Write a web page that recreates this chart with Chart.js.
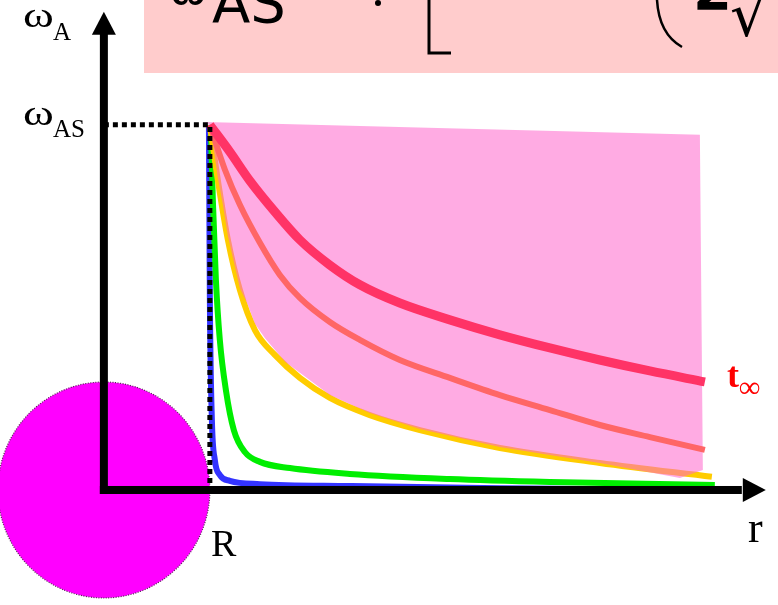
<!DOCTYPE html>
<html lang="en">
<head>
  <meta charset="UTF-8">
  <title>Alfvén frequency profile</title>
  <style>
    body {
        margin: 0;
        padding: 0;
        background: #fff;
    }
    #chart {
        display: block;
    }
  </style>
</head>
<body>
  <canvas id="chart" width="778" height="605"></canvas>

  <script src="https://cdn.jsdelivr.net/npm/chart.js"></script>
  <script>
    // radius in units of R, frequency in units of omega_AS
    const redR    = [1.0, 1.189, 1.377, 1.613, 1.849, 2.132, 2.415, 2.792, 3.264, 3.736, 4.208, 4.679, 5.151, 5.670];
    const redW    = [1.0, 0.926, 0.847, 0.762, 0.685, 0.616, 0.562, 0.512, 0.466, 0.425, 0.389, 0.356, 0.326, 0.296];

    const salmonR = [1.0, 1.142, 1.283, 1.472, 1.660, 1.849, 2.132, 2.415, 2.792, 3.264, 3.736, 4.208, 4.679, 5.151, 5.670];
    const salmonW = [1.0, 0.877, 0.781, 0.677, 0.589, 0.526, 0.460, 0.411, 0.356, 0.307, 0.260, 0.219, 0.178, 0.145, 0.110];

    const yellowR = [1.0, 1.075, 1.170, 1.283, 1.425, 1.613, 1.849, 2.132, 2.509, 2.981, 3.736, 4.679, 5.736];
    const yellowW = [1.0, 0.849, 0.685, 0.548, 0.438, 0.370, 0.307, 0.252, 0.205, 0.164, 0.115, 0.074, 0.036];

    const greenR  = [1.009, 1.028, 1.057, 1.094, 1.151, 1.226, 1.330, 1.472, 1.755, 2.321, 3.264, 4.208, 5.764];
    const greenW  = [1.0, 0.795, 0.575, 0.411, 0.274, 0.164, 0.104, 0.077, 0.060, 0.044, 0.030, 0.022, 0.014];

    const blueR   = [0.991, 1.0, 1.019, 1.047, 1.094, 1.189, 1.472, 2.321, 3.736, 5.764];
    const blueW   = [1.0, 0.521, 0.192, 0.082, 0.041, 0.025, 0.016, 0.011, 0.005, 0.0];

    // shaded band of the later-time profiles, traced clockwise
    const bandR   = [0.953, 5.623, 5.651, 5.434, 4.679, 3.736, 2.981, 2.509, 2.132, 1.849, 1.708, 1.613,
                     1.519, 1.425, 1.358, 1.283, 1.226, 1.170, 1.123, 1.075, 1.038, 1.0];
    const bandW   = [1.008, 0.973, 0.055, 0.033, 0.074, 0.118, 0.167, 0.211, 0.260, 0.321, 0.351, 0.384,
                     0.416, 0.455, 0.507, 0.553, 0.625, 0.696, 0.781, 0.855, 0.932, 1.0];

    // omega_AS guide: from the axis to R, then down to r axis
    const guideR  = [0, 1, 1];
    const guideW  = [1, 1, 0];

    const xMin = -0.98, xMax = 6.36;
    const yMin = -0.315, yMax = 1.342;
    const rArrowTip = 6.245, wArrowTip = 1.31;

    const pts = (xs, ys) => xs.map((x, i) => ({ x: x, y: ys[i] }));

    const curve = (xs, ys, color, width, order) => ({
      data: pts(xs, ys),
      borderColor: color,
      borderWidth: width,
      borderCapStyle: 'butt',
      cubicInterpolationMode: 'monotone',
      pointRadius: 0,
      fill: false,
      order: order
    });

    // pink box, planet disc (under the curves)
    const backdrop = {
      id: 'backdrop',
      beforeDatasetsDraw(chart) {
        const ctx = chart.ctx;
        const xs = chart.scales.x, ys = chart.scales.y;
        ctx.save();
        ctx.fillStyle = '#ffcccc';
        ctx.fillRect(144, 0, chart.width - 144, 73);

        const cx = xs.getPixelForValue(0), cy = ys.getPixelForValue(0);
        const rad = xs.getPixelForValue(1) - cx;
        ctx.beginPath();
        ctx.ellipse(cx, cy, rad, rad + 2, 0, 0, Math.PI * 2);
        ctx.fillStyle = '#ff00ff';
        ctx.fill();
        ctx.setLineDash([1, 1.5]);
        ctx.lineWidth = 1.2;
        ctx.strokeStyle = '#552255';
        ctx.stroke();
        ctx.restore();
      }
    };

    // wide Times-like omega
    function omega(ctx, x, y, size) {
      ctx.save();
      ctx.translate(x, y);
      ctx.scale(1.3, 1);
      ctx.font = size + 'px "Liberation Serif", serif';
      ctx.fillText('ω', 0, 0);
      ctx.restore();
    }

    // axes with arrow heads, labels, and the formula banner
    const annotations = {
      id: 'annotations',
      afterDatasetsDraw(chart) {
        const ctx = chart.ctx;
        const xs = chart.scales.x, ys = chart.scales.y;
        const ox = xs.getPixelForValue(0), oy = ys.getPixelForValue(0);
        const xTip = xs.getPixelForValue(rArrowTip), yTip = ys.getPixelForValue(wArrowTip);
        ctx.save();
        ctx.fillStyle = '#000';
        ctx.fillRect(ox - 4, yTip + 20, 8, oy - yTip - 16);
        ctx.fillRect(ox - 4, oy - 4, xTip - ox - 20, 8);
        ctx.beginPath();
        ctx.moveTo(ox, yTip);
        ctx.lineTo(ox - 12, yTip + 23);
        ctx.lineTo(ox + 12, yTip + 23);
        ctx.closePath();
        ctx.fill();
        ctx.beginPath();
        ctx.moveTo(xTip, oy);
        ctx.lineTo(xTip - 23, oy - 12);
        ctx.lineTo(xTip - 23, oy + 12);
        ctx.closePath();
        ctx.fill();

        // axis labels
        const serif = '"Liberation Serif", "Times New Roman", serif';
        ctx.textBaseline = 'alphabetic';
        omega(ctx, 23, 27, 36);
        omega(ctx, 23, 125, 36);
        ctx.font = '25px ' + serif;
        ctx.fillText('A', 53, 40);
        ctx.fillText('AS', 53, 137);
        ctx.font = '38px ' + serif;
        ctx.fillText('R', 211, 556);
        ctx.font = '44px ' + serif;
        ctx.fillText('r', 748, 542);

        ctx.fillStyle = '#ff0000';
        ctx.font = 'bold 36px ' + serif;
        ctx.fillText('t', 727, 387);
        ctx.font = 'bold 30px ' + serif;
        ctx.fillText('∞', 739, 397);

        // banner formula (cut off by the top edge)
        ctx.beginPath();
        ctx.rect(144, 0, chart.width - 144, 73);
        ctx.clip();
        ctx.fillStyle = '#000';
        ctx.strokeStyle = '#000';
        const hand = '"DejaVu Sans", sans-serif';
        ctx.font = '46px ' + hand;
        ctx.fillText('ω', 169, 4);
        ctx.font = '56px ' + hand;
        ctx.fillText('AS', 212, 22);
        ctx.beginPath();
        ctx.arc(378, 3, 3, 0, Math.PI * 2);
        ctx.fill();
        ctx.lineWidth = 3;
        ctx.beginPath();
        ctx.moveTo(429, 0);
        ctx.lineTo(429, 53);
        ctx.lineTo(451, 53);
        ctx.stroke();
        ctx.lineWidth = 2.5;
        ctx.beginPath();
        ctx.moveTo(657, 0);
        ctx.quadraticCurveTo(659, 34, 682, 47);
        ctx.stroke();
        ctx.font = 'bold 56px ' + hand;
        ctx.fillText('2', 693, 9);
        ctx.font = '60px ' + hand;
        ctx.fillText('√', 730, 36);
        ctx.restore();
      }
    };

    new Chart(document.getElementById('chart'), {
      type: 'line',
      data: {
        datasets: [
          {
            data: pts(guideR, guideW),
            borderColor: '#000',
            borderWidth: 5,
            borderDash: [5, 4],
            borderCapStyle: 'butt',
            tension: 0,
            pointRadius: 0,
            fill: false,
            order: -1
          },
          curve(redR, redW, '#ff3366', 9, 0),
          curve(salmonR, salmonW, '#ff6666', 6, 1),
          {
            data: pts(bandR, bandW),
            borderWidth: 0,
            backgroundColor: 'rgba(255, 102, 204, 0.55)',
            tension: 0,
            pointRadius: 0,
            fill: 'shape',
            order: 2
          },
          curve(yellowR, yellowW, '#ffcc00', 6, 3),
          curve(greenR, greenW, '#00ee00', 6, 4),
          curve(blueR, blueW, '#3333ff', 6, 5)
        ]
      },
      options: {
        responsive: false,
        animation: false,
        layout: { padding: 0 },
        scales: {
          x: { type: 'linear', min: xMin, max: xMax, display: false },
          y: { type: 'linear', min: yMin, max: yMax, display: false }
        },
        plugins: {
          legend: { display: false },
          tooltip: { enabled: false }
        }
      },
      plugins: [backdrop, annotations]
    });
  </script>
</body>
</html>
